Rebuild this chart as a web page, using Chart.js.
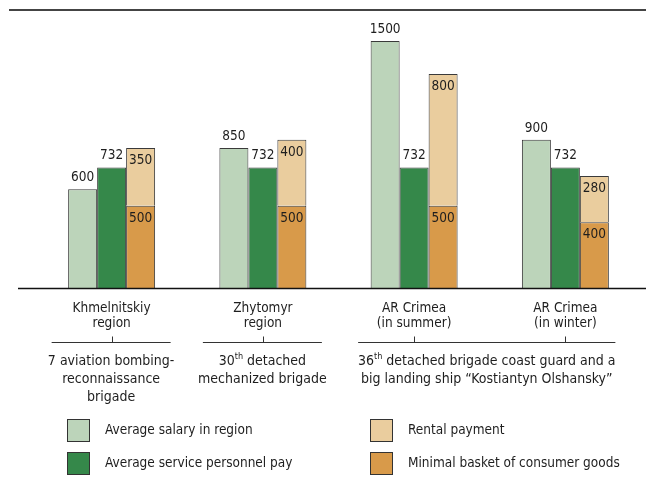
<!DOCTYPE html>
<html>
<head>
<meta charset="utf-8">
<script src="https://cdn.jsdelivr.net/npm/chart.js@4"></script>
<style>
  html, body { margin: 0; padding: 0; background: #fff; }
</style>
</head>
<body>
<canvas id="chart" width="646" height="480"></canvas>
<script>
// Data
const categories = [['Khmelnitskiy', 'region'], ['Zhytomyr', 'region'], ['AR Crimea', '(in summer)'], ['AR Crimea', '(in winter)']]
const avgSalary = [600, 850, 1500, 900]
const servicePay = [732, 732, 732, 732]
const rentalPayment = [350, 400, 800, 280]
const consumerBasket = [500, 500, 500, 400]

// Military units under the regions ({..} = superscript)
const unitLabels = [
  ['7 aviation bombing-', 'reconnaissance', 'brigade'],
  ['30{th} detached', 'mechanized brigade'],
  ['36{th} detached brigade coast guard and a', 'big landing ship “Kostiantyn Olshansky”']
]
const unitSpans = [[0, 0], [1, 1], [2, 3]]

const FONT = "'Liberation Sans Narrow', 'DejaVu Sans Condensed', 'Arial Narrow', sans-serif"
const INK = '#1e1e1e'

// Draw text with {superscript} parts, centred on x
const drawRich = (ctx, text, x, y, size) => {
  const parts = text.split(/(\{[^}]*\})/).filter(p => p)
  const segs = parts.map(p => {
    const sup = p.startsWith('{')
    const t = sup ? p.slice(1, -1) : p
    ctx.font = `${sup ? Math.round(size * 0.62) : size}px ${FONT}`
    return { t, sup, w: ctx.measureText(t).width }
  })
  let cx = x - segs.reduce((s, g) => s + g.w, 0) / 2
  ctx.textAlign = 'left'
  ctx.textBaseline = 'middle'
  segs.forEach(g => {
    ctx.font = `${g.sup ? Math.round(size * 0.62) : size}px ${FONT}`
    ctx.fillText(g.t, cx, g.sup ? y - size * 0.32 : y)
    cx += g.w
  })
}

// Value labels, frame lines, unit brackets and legend
const decorations = {
  id: 'decorations',
  afterDatasetsDraw (chart) {
    const { ctx, scales } = chart
    ctx.save()
    ctx.fillStyle = INK

    // value labels
    chart.data.datasets.forEach((ds, i) => {
      const meta = chart.getDatasetMeta(i)
      meta.data.forEach((bar, j) => {
        ctx.font = `13.5px ${FONT}`
        ctx.textAlign = 'center'
        ctx.textBaseline = 'alphabetic'
        if (ds.stack === 'costs') {
          ctx.fillText(ds.data[j], bar.x, bar.y + 16)
        } else {
          ctx.fillText(ds.data[j], bar.x, bar.y - 8)
        }
      })
    })

    // top rule and baseline
    ctx.strokeStyle = '#444'
    ctx.lineWidth = 2
    ctx.beginPath()
    ctx.moveTo(9, 10)
    ctx.lineTo(chart.width, 10)
    ctx.stroke()
    const y0 = Math.round(scales.y.getPixelForValue(0)) + 0.5
    ctx.strokeStyle = '#111'
    ctx.lineWidth = 1.5
    ctx.beginPath()
    ctx.moveTo(18, y0)
    ctx.lineTo(chart.width, y0)
    ctx.stroke()

    // unit brackets and labels
    ctx.strokeStyle = '#333'
    ctx.lineWidth = 1
    unitSpans.forEach(([a, b], k) => {
      const xa = scales.x.getPixelForValue(a)
      const xb = scales.x.getPixelForValue(b)
      const left = xa - (a === b ? 60 : 56)
      const right = xb + (a === b ? 59 : 50)
      const by = 342.5
      ctx.beginPath()
      ctx.moveTo(left, by)
      ctx.lineTo(right, by)
      for (let c = a; c <= b; c++) {
        const xc = Math.round(scales.x.getPixelForValue(c)) + 0.5
        ctx.moveTo(xc, by)
        ctx.lineTo(xc, by - 6)
      }
      ctx.stroke()
      ctx.fillStyle = INK
      unitLabels[k].forEach((line, n) => {
        drawRich(ctx, line, (left + right) / 2, 361 + n * 18, 14)
      })
    })

    // legend, two columns
    const order = [0, 1, 3, 2]
    order.forEach((dsIndex, n) => {
      const ds = chart.data.datasets[dsIndex]
      const col = Math.floor(n / 2)
      const row = n % 2
      const bx = [67, 370][col]
      const by = [419, 452][row]
      ctx.fillStyle = ds.backgroundColor
      ctx.fillRect(bx, by, 23, 23)
      ctx.strokeStyle = '#333'
      ctx.strokeRect(bx + 0.5, by + 0.5, 22, 22)
      ctx.fillStyle = INK
      ctx.font = `13.5px ${FONT}`
      ctx.textAlign = 'left'
      ctx.textBaseline = 'middle'
      ctx.fillText(ds.label, bx + 38, by + 11)
    })
    ctx.restore()
  }
}

const barStyle = { borderColor: '#3a3a3a', borderWidth: 1, categoryPercentage: 0.575, barPercentage: 1 }

new Chart(document.querySelector('#chart'), {
  type: 'bar',
  data: {
    labels: categories,
    datasets: [
      { label: 'Average salary in region', data: avgSalary, stack: 'salary', backgroundColor: '#bcd4ba', ...barStyle },
      { label: 'Average service personnel pay', data: servicePay, stack: 'pay', backgroundColor: '#35884a', ...barStyle },
      { label: 'Minimal basket of consumer goods', data: consumerBasket, stack: 'costs', backgroundColor: '#d89a4a', ...barStyle },
      { label: 'Rental payment', data: rentalPayment, stack: 'costs', backgroundColor: '#eacd9e', ...barStyle }
    ]
  },
  options: {
    responsive: false,
    animation: false,
    layout: { padding: { top: 41, left: 36, right: 5, bottom: 0 } },
    scales: {
      x: {
        stacked: true,
        grid: { display: false, drawTicks: false },
        border: { display: false },
        ticks: { color: INK, padding: 13, font: { family: FONT, size: 13.5, lineHeight: 1.12 } },
        afterFit: scale => { scale.height = 192 }
      },
      y: { stacked: true, display: false, min: 0, max: 1500 }
    },
    plugins: {
      legend: { display: false },
      tooltip: { enabled: false }
    }
  },
  plugins: [decorations]
})
</script>
</body>
</html>
